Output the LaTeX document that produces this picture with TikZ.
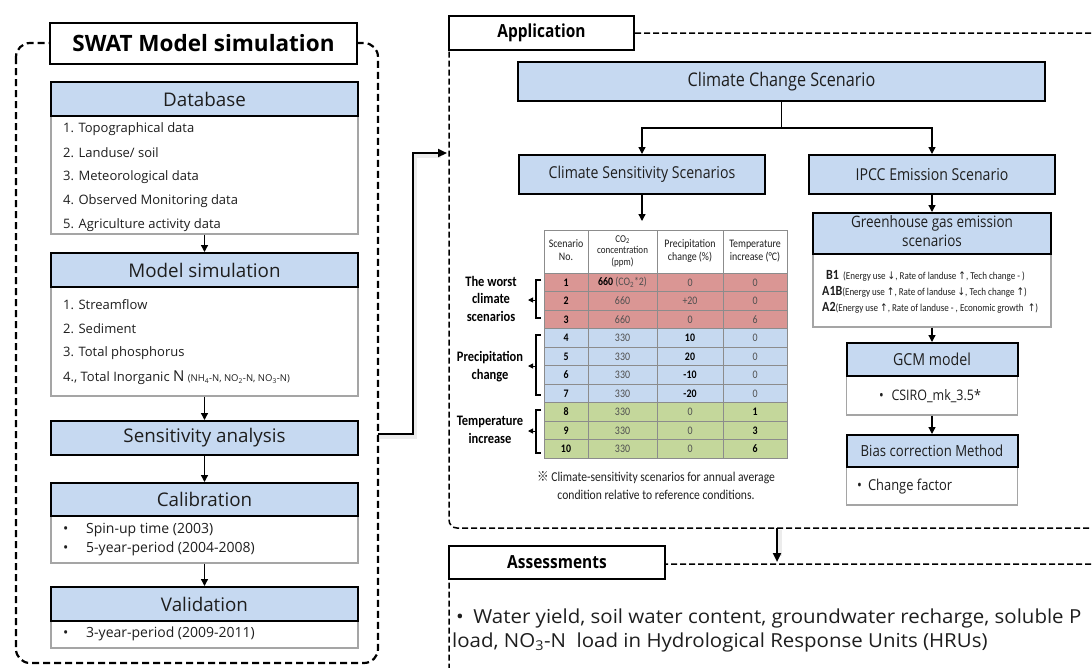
\documentclass[tikz,border=0pt]{standalone}
\usepackage{fontspec}
\usepackage{graphicx}
\setmainfont{Open Sans}
\newfontfamily\carl{Carlito}
\newfontfamily\dvs{DejaVu Sans}
\newfontfamily\cjk{Noto Sans CJK SC}
\usetikzlibrary{arrows.meta}

\definecolor{hdrblue}{RGB}{198,217,241}
\definecolor{rowred}{RGB}{218,150,148}
\definecolor{rowblue}{RGB}{198,217,240}
\definecolor{rowgreen}{RGB}{196,215,155}
\definecolor{bodygray}{RGB}{165,165,165}
\definecolor{txtdark}{RGB}{30,30,30}
\definecolor{txtgray}{RGB}{80,80,80}

\newcommand{\fsz}[2]{\fontsize{#1}{#2}\selectfont}
\newcommand{\nx}[1]{\scalebox{0.86}[1]{#1}}
\newcommand{\wx}[1]{\scalebox{1.06}[1]{#1}}
\newcommand{\bnum}[1]{\textbf{\color{black}#1}}
\newcommand{\uparr}{{\dvs ↑}}
\newcommand{\dnarr}{{\dvs ↓}}

\tikzset{
  hdr/.style={draw=black, line width=2pt, fill=hdrblue, inner sep=0pt, align=center, text=txtdark},
  bodybox/.style={draw=bodygray, line width=1.4pt, fill=white, inner sep=0pt},
  titlebox/.style={draw=black, line width=2pt, fill=white, inner sep=0pt, text=black},
  flow/.style={line width=1.3pt, -{Triangle[length=7pt,width=7pt]}},
  conn/.style={line width=2.2pt, -{Triangle[length=9pt,width=8pt]}},
  connshadow/.style={line width=4pt, draw=black!30, opacity=0.25},
  item/.style={anchor=west, inner sep=0pt, text=txtdark},
  swatdash/.style={line width=2.2pt, dash pattern=on 7pt off 4pt, rounded corners=14pt},
  appdash/.style={line width=1.5pt, dash pattern=on 6pt off 3pt, rounded corners=8pt},
  grid/.style={draw=black!45, line width=0.7pt},
  cell/.style={inner sep=0pt, text=txtgray, font=\carl\fsz{11.5}{12}},
  thead/.style={inner sep=0pt, align=center, text=txtdark},
  grouplbl/.style={inner sep=0pt, align=center, text=black, font=\carl\bfseries\fsz{14.5}{17.5}},
  brk/.style={line width=1.1pt},
}

\begin{document}
\begin{tikzpicture}[x=1pt,y=-1pt]
\useasboundingbox (0,0) rectangle (1092,667);
\clip (0,0) rectangle (1092,667);

% ---------------- SWAT model simulation panel ----------------
\draw[swatdash] (16,43) rectangle (378,663);
\node[titlebox, minimum width=307pt, minimum height=41pt] (swat) at (203.5,43.5)
  {\bfseries\fsz{22.5}{24}SWAT Model simulation};

% Database
\node[bodybox, minimum width=307pt, minimum height=118pt] (dbb) at (204.5,175) {};
\node[hdr, minimum width=307pt, minimum height=34pt] (dbh) at (204.5,99) {\fsz{18.8}{20}Database};
\node[item] (db1) at (63,129) {\fsz{13}{15}1. Topographical data};
\node[item] (db2) at (63,153) {\fsz{13}{15}2. Landuse/ soil};
\node[item] (db3) at (63,177) {\fsz{13}{15}3. Meteorological data};
\node[item] (db4) at (63,201) {\fsz{13}{15}4. Observed Monitoring data};
\node[item] (db5) at (63,225) {\fsz{13}{15}5. Agriculture activity data};

% Model simulation
\node[bodybox, minimum width=307pt, minimum height=109pt] (msb) at (204.5,341.5) {};
\node[hdr, minimum width=307pt, minimum height=34pt] (msh) at (204.5,270) {\fsz{18.8}{20}Model simulation};
\node[item] (ms1) at (63,305) {\fsz{13}{15}1. Streamflow};
\node[item] (ms2) at (63,329) {\fsz{13}{15}2. Sediment};
\node[item] (ms3) at (63,353) {\fsz{13}{15}3. Total phosphorus};
\node[item] (ms4) at (63,378) {\fsz{13}{15}4., Total Inorganic {\fsz{15}{15}N}
  {\fsz{9.5}{10}(NH\textsubscript{4}-N, NO\textsubscript{2}-N, NO\textsubscript{3}-N)}};

% Sensitivity analysis
\node[hdr, minimum width=307pt, minimum height=34pt] (sa) at (204.5,438) {\fsz{18.8}{20}Sensitivity analysis};

% Calibration
\node[bodybox, minimum width=307pt, minimum height=47pt] (calb) at (204.5,539.5) {};
\node[hdr, minimum width=307pt, minimum height=33pt] (calh) at (204.5,499.5) {\fsz{18.8}{20}Calibration};
\node[item] (cal1) at (63,530) {\fsz{14}{16}\makebox[23pt][l]{•}Spin-up time (2003)};
\node[item] (cal2) at (63,549) {\fsz{14}{16}\makebox[23pt][l]{•}5-year-period (2004-2008)};

% Validation
\node[bodybox, minimum width=307pt, minimum height=27pt] (valb) at (204.5,634.5) {};
\node[hdr, minimum width=307pt, minimum height=34pt] (valh) at (204.5,604) {\fsz{18.8}{20}Validation};
\node[item] (val1) at (63,634) {\fsz{14}{16}\makebox[23pt][l]{•}3-year-period (2009-2011)};

\draw[flow] (dbb.south) -- (msh.north);
\draw[flow] (msb.south) -- (sa.north);
\draw[flow] (sa.south) -- (calh.north);
\draw[flow] (calb.south) -- (valh.north);

% ---------------- Application panel ----------------
\draw[appdash] (1100,33) -- (449,33) -- (449,528) -- (1100,528);
\node[titlebox, minimum width=185pt, minimum height=34pt] (app) at (541.5,33)
  {\nx{\bfseries\fsz{18}{20}Application}};

\node[hdr, minimum width=527pt, minimum height=39pt] (ccs) at (781.5,81.5)
  {\nx{\fsz{18.8}{20}Climate Change Scenario}};
\node[hdr, minimum width=246pt, minimum height=39pt] (css) at (642,174.5)
  {\nx{\fsz{16.4}{18}Climate Sensitivity Scenarios}};
\node[hdr, minimum width=246pt, minimum height=39pt] (ipcc) at (932,174.5)
  {\nx{\fsz{16.4}{18}IPCC Emission Scenario}};

\draw[flow] (ccs.south) -- ++(0,26) -| (css.north);
\draw[flow] (ccs.south) -- ++(0,26) -| (ipcc.north);

% Greenhouse gas emission scenarios
\node[bodybox, minimum width=238pt, minimum height=73pt] (ghgb) at (932,290.5) {};
\node[hdr, minimum width=238pt, minimum height=41pt] (ghgh) at (932,233.5)
  {\nx{\fsz{15.7}{19}\begin{tabular}{@{}c@{}}Greenhouse gas emission\\scenarios\end{tabular}}};
\node[item] (ghg1) at (826,276) {\nx{\carl\fsz{10.5}{12}{\bfseries\fsz{14}{14}B1}\ \ (Energy use \dnarr, Rate of landuse \uparr, Tech change - )}};
\node[item] (ghg2) at (822,292) {\nx{\carl\fsz{10.5}{12}{\bfseries\fsz{14}{14}A1B}(Energy use \uparr, Rate of landuse \dnarr, Tech change \uparr)}};
\node[item] (ghg3) at (822,308) {\nx{\carl\fsz{10.5}{12}{\bfseries\fsz{14}{14}A2}(Energy use \uparr, Rate of landuse - , Economic growth \ \uparr)}};

% GCM model
\node[bodybox, minimum width=171pt, minimum height=39pt] (gcmb) at (932,395.5) {};
\node[hdr, minimum width=171pt, minimum height=33pt] (gcmh) at (932,359.5)
  {\nx{\fsz{16.5}{18}GCM model}};
\node[inner sep=0pt, text=txtdark] (gcm1) at (930,396) {\nx{\fsz{14.5}{16}•\hspace{9pt}CSIRO\_mk\_3.5*}};

% Bias correction
\node[bodybox, minimum width=171pt, minimum height=38pt] (biasb) at (932,486) {};
\node[hdr, minimum width=171pt, minimum height=32pt] (biash) at (932,451)
  {\nx{\fsz{15.3}{17}Bias correction Method}};
\node[item] (bias1) at (857,487) {\nx{\fsz{15}{16}•\hspace{7pt}Change factor}};

\draw[flow] (ipcc.south) -- (ghgh.north);
\draw[flow] (ghgb.south) -- (gcmh.north);
\draw[flow] (gcmb.south) -- (biash.north);

% Climate sensitivity table
\coordinate (tabtop) at (642,221);
\draw[flow] (css.south) -- (tabtop);

\fill[white] (544,230) rectangle (787,273);
\foreach \i/\fillc/\co/\pr/\te in {
  1/rowred/{\bnum{660} (CO\textsubscript{2}*2)}/0/0,
  2/rowred/660/+20/0,
  3/rowred/660/0/6,
  4/rowblue/330/\bnum{10}/0,
  5/rowblue/330/\bnum{20}/0,
  6/rowblue/330/\bnum{-10}/0,
  7/rowblue/330/\bnum{-20}/0,
  8/rowgreen/330/0/\bnum{1},
  9/rowgreen/330/0/\bnum{3},
  10/rowgreen/330/0/\bnum{6}}
{
  \pgfmathsetmacro\yt{273+(\i-1)*18.5}
  \pgfmathsetmacro\yc{\yt+9.5}
  \fill[\fillc] (544,\yt) rectangle (787,\yt+18.5);
  \node[cell] (no\i) at (566,\yc) {\nx{\bnum{\i}}};
  \node[cell] (co\i) at (622.5,\yc) {\nx{\co}};
  \node[cell] (pr\i) at (690,\yc) {\nx{\pr}};
  \node[cell] (te\i) at (755,\yc) {\nx{\te}};
}
\draw[grid] (544,230) rectangle (787,458);
\foreach \xx in {588,657,723} \draw[grid] (\xx,230) -- (\xx,458);
\foreach \k in {0,...,9} \draw[grid] (544,273+\k*18.5) -- (787,273+\k*18.5);

\node[thead] (h1) at (566,251.5) {\nx{\carl\fsz{11.5}{13}\begin{tabular}{@{}c@{}}Scenario\\No.\end{tabular}}};
\node[thead] (h2) at (622.5,251.5) {\nx{\carl\fsz{10.5}{11.5}\begin{tabular}{@{}c@{}}CO\textsubscript{2}\\concentration\\(ppm)\end{tabular}}};
\node[thead] (h3) at (690,251.5) {\nx{\carl\fsz{11.5}{13}\begin{tabular}{@{}c@{}}Precipitation\\change (\%)\end{tabular}}};
\node[thead] (h4) at (755,251.5) {\nx{\carl\fsz{11.5}{13}\begin{tabular}{@{}c@{}}Temperature\\increase (°C)\end{tabular}}};

% group labels and brackets
\node[grouplbl] (gworst) at (491,300) {\nx{\begin{tabular}{@{}c@{}}The worst\\climate\\scenarios\end{tabular}}};
\node[grouplbl] (gprec) at (490,367) {\nx{\begin{tabular}{@{}c@{}}Precipitation\\change\end{tabular}}};
\node[grouplbl] (gtemp) at (490,431) {\nx{\begin{tabular}{@{}c@{}}Temperature\\increase\end{tabular}}};

\draw[brk] (541,280) -- (536,280) -- (536,318) -- (541,318);
\draw[brk] (541,335) -- (536,335) -- (536,395) -- (541,395);
\draw[brk] (541,410) -- (536,410) -- (536,453) -- (541,453);
\coordinate (bk1) at (536,300); \coordinate (bt1) at (528,300);
\coordinate (bk2) at (536,366); \coordinate (bt2) at (528,366);
\coordinate (bk3) at (536,431); \coordinate (bt3) at (528,431);
\draw[line width=1pt, -{Triangle[length=5pt,width=5pt]}] (bk1) -- (bt1);
\draw[line width=1pt, -{Triangle[length=5pt,width=5pt]}] (bk2) -- (bt2);
\draw[line width=1pt, -{Triangle[length=5pt,width=5pt]}] (bk3) -- (bt3);

\node[inner sep=0pt, text=txtdark] (note) at (656,487)
  {\nx{\carl\fsz{13.5}{18}\begin{tabular}{@{}c@{}}{\cjk ※} Climate-sensitivity scenarios for annual average\\condition relative to reference conditions.\end{tabular}}};

% ---------------- Assessments panel ----------------
\draw[appdash] (1100,564) -- (449,564) -- (449,700);
\node[titlebox, minimum width=216pt, minimum height=33pt] (ass) at (557,562.5)
  {\nx{\bfseries\fsz{18}{20}Assessments}};
\node[item] (ass1) at (456,618) {\wx{\fsz{19.3}{22}•\hspace{9pt}Water yield, soil water content, groundwater recharge, soluble P}};
\node[item] (ass2) at (452,642) {\wx{\fsz{19.3}{22}load, NO\textsubscript{3}-N\ \ load in Hydrological Response Units (HRUs)}};

% ---------------- main connectors ----------------
\coordinate (swatE) at (378,434);
\coordinate (appW) at (447,153);
\coordinate (appS) at (777,528);
\coordinate (assN) at (777,562);
\draw[connshadow] ([shift={(2,3)}]swatE) -- ++(35,0) |- ([shift={(-6,3)}]appW);
\draw[conn] (swatE) -- ++(35,0) |- (appW);
\draw[connshadow] ([shift={(3,2)}]appS) -- ([shift={(3,-6)}]assN);
\draw[conn] (appS) -- (assN);

\end{tikzpicture}
\end{document}
